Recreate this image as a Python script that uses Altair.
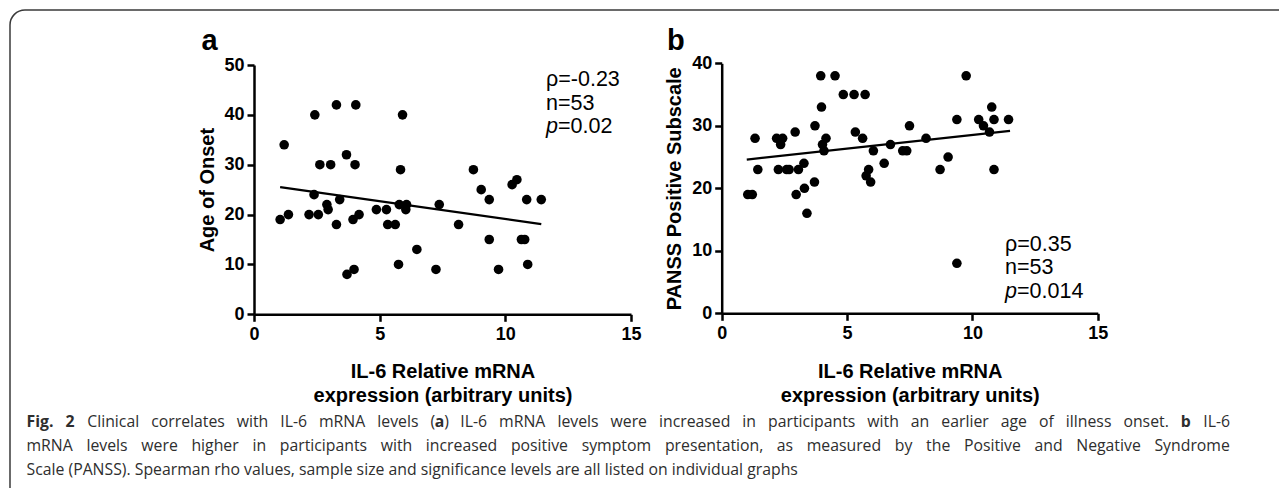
import altair as alt
import pandas as pd

# ---------------- data ----------------
a_x = [1.04, 1.2, 1.37, 2.19, 2.39, 2.42, 2.56, 2.62, 2.9, 2.95,
       3.05, 3.28, 3.28, 3.41, 3.68, 3.7, 3.98, 3.94, 4.02, 4.05,
       4.18, 4.87, 5.27, 5.32, 5.62, 5.75, 5.78, 5.83, 5.91, 6.04,
       6.07, 6.48, 7.24, 7.37, 8.14, 8.73, 9.04, 9.36, 9.36, 9.73,
       10.27, 10.46, 10.64, 10.77, 10.85, 10.89, 11.43]
a_y = [19, 34, 20, 20, 24, 40, 20, 30, 22, 21,
       30, 18, 42, 23, 32, 8, 9, 19, 30, 42,
       20, 21, 21, 18, 18, 10, 22, 29, 40, 21,
       22, 13, 9, 22, 18, 29, 25, 23, 15, 9,
       26, 27, 15, 15, 23, 10, 23]
a_fit_x = [1.04, 11.43]
a_fit_y = [25.5, 18.1]

b_x = [1.04, 1.22, 1.33, 1.44, 2.19, 2.26, 2.35, 2.43, 2.59, 2.69,
       2.93, 2.97, 3.06, 3.28, 3.3, 3.4, 3.7, 3.72, 3.95, 3.98,
       4.02, 4.08, 4.16, 4.52, 4.85, 5.28, 5.33, 5.62, 5.72, 5.76,
       5.86, 5.94, 6.05, 6.48, 6.73, 7.22, 7.38, 7.49, 8.15, 8.71,
       9.03, 9.38, 9.38, 9.75, 10.25, 10.44, 10.68, 10.77, 10.86, 10.86, 11.44]
b_y = [19, 19, 28, 23, 28, 23, 27, 28, 23, 23,
       29, 19, 23, 24, 20, 16, 21, 30, 38, 33,
       27, 26, 28, 38, 35, 35, 29, 28, 35, 22,
       23, 21, 26, 24, 27, 26, 26, 30, 28, 23,
       25, 8, 31, 38, 31, 30, 29, 33, 23, 31, 31]
b_fit_x = [1.0, 11.5]
b_fit_y = [24.6, 29.2]

a_ticks_x = [0, 5, 10, 15]
a_ticks_y = [0, 10, 20, 30, 40, 50]
b_ticks_x = [0, 5, 10, 15]
b_ticks_y = [0, 10, 20, 30, 40]

x_title = ["IL-6 Relative mRNA", "expression (arbitrary units)"]
a_y_title = "Age of Onset"
b_y_title = "PANSS Positive Subscale"
a_stats = ["\u03c1=-0.23", "n=53", "=0.02"]
b_stats = ["\u03c1=0.35", "n=53", "=0.014"]

# caption: lines of words; each word is a list of (text, bold) runs
caption_lines = [
    [[("Fig.", True)], [("2", True)], [("Clinical", False)], [("correlates", False)],
     [("with", False)], [("IL-6", False)], [("mRNA", False)], [("levels", False)],
     [("(", False), ("a", True), (")", False)], [("IL-6", False)], [("mRNA", False)],
     [("levels", False)], [("were", False)], [("increased", False)], [("in", False)],
     [("participants", False)], [("with", False)], [("an", False)], [("earlier", False)],
     [("age", False)], [("of", False)], [("illness", False)], [("onset.", False)],
     [("b", True)], [("IL-6", False)]],
    [[(w, False)] for w in ("mRNA levels were higher in participants with increased positive "
                            "symptom presentation, as measured by the Positive and Negative Syndrome").split()],
    [[("Scale (PANSS). Spearman rho values, sample size and significance levels are all "
       "listed on individual graphs", False)]],
]
caption_justify = [True, True, False]

# ---------------- layout (chart coords = page - 8) ----------------
W, H = 1271, 480
O = 8
FONT = "Liberation Sans"
CAPFONT = "Open Sans"

ax_rng = [254 - O, 631 - O]
ay_rng = [314.3 - O, 65 - O]
bx_rng = [721.7 - O, 1097.8 - O]
by_rng = [313.3 - O, 63.3 - O]

axis_style = dict(
    domainColor="black", domainWidth=2.5, tickColor="black", tickWidth=2.5,
    tickSize=7, labelFont=FONT, labelFontSize=18, labelFontWeight="bold",
    labelColor="black", grid=False, titleFont=FONT,
    titleFontSize=20, titleFontWeight="bold", titleColor="black",
)


def panel(xs, ys, fx, fy, xr, yr, xdom, ydom, xt, yt, ytitle):
    pts = pd.DataFrame({"x": xs, "y": ys})
    fit = pd.DataFrame({"x": fx, "y": fy})
    X = alt.X("x:Q", scale=alt.Scale(domain=xdom, range=xr, nice=False, zero=False),
              axis=alt.Axis(orient="bottom", offset=yr[0] - H, values=xt, format="d",
                            title=x_title, titleBaseline="alphabetic", titleLineHeight=24,
                            titleX=(xr[0] + xr[1]) / 2, titleY=377 - (yr[0] + O),
                            labelAlign="center", labelPadding=4, **axis_style))
    Y = alt.Y("y:Q", scale=alt.Scale(domain=ydom, range=yr, nice=False, zero=False),
              axis=alt.Axis(orient="left", offset=-xr[0], values=yt, format="d",
                            title=ytitle, titleAngle=270, titleBaseline="alphabetic",
                            titleX=-41, titleY=(yr[0] + yr[1]) / 2, labelPadding=3,
                            **axis_style))
    p = alt.Chart(pts).mark_circle(size=92, color="black", opacity=1).encode(x=X, y=Y)
    l = alt.Chart(fit).mark_line(color="black", strokeWidth=2.3).encode(x="x:Q", y="y:Q")
    return alt.layer(p, l)


pa = panel(a_x, a_y, a_fit_x, a_fit_y, ax_rng, ay_rng, [0, 15], [0, 50],
           a_ticks_x, a_ticks_y, a_y_title)
pb = panel(b_x, b_y, b_fit_x, b_fit_y, bx_rng, by_rng, [0, 15], [0, 40],
           b_ticks_x, b_ticks_y, b_y_title)

one = pd.DataFrame({"k": [0]})


def txt(s, x, y, size, bold=False, italic=False, font=FONT, color="black"):
    kw = dict(font=font, fontSize=size, align="left", baseline="alphabetic", color=color)
    if bold:
        kw["fontWeight"] = "bold"
    if italic:
        kw["fontStyle"] = "italic"
    return alt.Chart(one).mark_text(**kw).encode(
        x=alt.value(x - O), y=alt.value(y - O), text=alt.value(s))


texts = []
texts.append(txt("a", 201.5, 50, 29, bold=True))
texts.append(txt("b", 667, 50, 29, bold=True))

SF = 21.5
for (sx, base, stats) in [(546, 86, a_stats), (1005, 250.5, b_stats)]:
    texts.append(txt(stats[0], sx, base, SF))
    texts.append(txt(stats[1], sx, base + 23.5, SF))
    texts.append(txt("p", sx, base + 47, SF, italic=True))
    texts.append(txt(stats[2], sx + 12, base + 47, SF))

# approximate Open Sans advance widths (em) used to justify caption words
OS_W = {" ": 0.26, "a": 0.556, "b": 0.613, "c": 0.476, "d": 0.613, "e": 0.561, "f": 0.339,
        "g": 0.548, "h": 0.614, "i": 0.253, "j": 0.253, "k": 0.525, "l": 0.253, "m": 0.93,
        "n": 0.614, "o": 0.604, "p": 0.613, "q": 0.613, "r": 0.408, "s": 0.477, "t": 0.353,
        "u": 0.614, "v": 0.501, "w": 0.778, "x": 0.524, "y": 0.502, "z": 0.477,
        "A": 0.633, "B": 0.648, "C": 0.631, "D": 0.729, "E": 0.556, "F": 0.516, "G": 0.728,
        "H": 0.738, "I": 0.279, "L": 0.519, "M": 0.903, "N": 0.754, "P": 0.602, "R": 0.618,
        "S": 0.549, "T": 0.553, "(": 0.266, ")": 0.266, ".": 0.266, ",": 0.245, "-": 0.322}


def tw(s, size, bold=False):
    w = sum(OS_W.get(c, 0.572) for c in s) * size
    return w * (1.08 if bold else 1.0)


CS = 15.8
cap_left, cap_right = 26.5, 1230
cap_base = [427, 451, 475]
for li, words in enumerate(caption_lines):
    widths = [sum(tw(t, CS, b) for t, b in w) for w in words]
    if caption_justify[li] and len(words) > 1:
        gap = (cap_right - cap_left - sum(widths)) / (len(words) - 1)
    else:
        gap = tw(" ", CS)
    x = cap_left
    for w, wd in zip(words, widths):
        rx = x
        for t, b in w:
            texts.append(txt(t, rx, cap_base[li], CS, bold=b, font=CAPFONT, color="#2e2e2e"))
            rx += tw(t, CS, b)
        x += wd + gap

border = alt.Chart(one).mark_rect(
    fill="transparent", stroke="#3a3a3a", strokeWidth=1.5, cornerRadius=15
).encode(x=alt.value(10 - O), y=alt.value(10 - O), x2=alt.value(1320), y2=alt.value(497))

chart = alt.layer(pa, pb, border, *texts).resolve_scale(
    x="independent", y="independent"
).resolve_axis(x="independent", y="independent").properties(
    width=W, height=H, autosize=alt.AutoSizeParams(type="none"), padding=0,
    background="white"
).configure_view(strokeWidth=0)

chart.save("out.html", embed_options={"renderer": "svg", "actions": False})
